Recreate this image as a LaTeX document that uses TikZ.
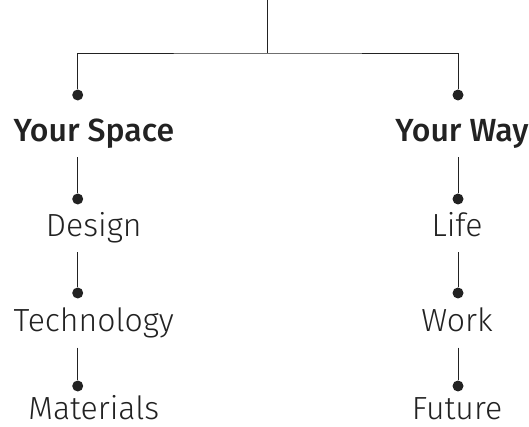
\documentclass[tikz,border=0pt]{standalone}
\usepackage{fontspec}
\setmainfont{Fira Sans}[UprightFont=* Light, BoldFont=* Medium]
\usepackage{xcolor}
\usetikzlibrary{positioning}
\definecolor{ink}{HTML}{222222}

\begin{document}
\begin{tikzpicture}[x=1pt, y=1pt, line width=0.9pt, color=ink,
  dot/.style={circle, fill=ink, inner sep=0pt, minimum size=11pt},
  lbl/.style={anchor=base, inner sep=0pt, text height=22pt, text depth=15.3pt,
    font=\fontsize{32}{36}\selectfont},
  head/.style={lbl, font=\fontsize{32}{36}\selectfont\bfseries},
  last/.style={lbl, text depth=0pt}]
\useasboundingbox (0,0) rectangle (529,427);
% Top branch
\coordinate (root) at (267.6,427);
\coordinate (fork) at (267.6,374);
\node[dot] (space dot) at (77.7,332) {};
\node[dot] (way dot) at (458,332) {};
\draw (root) -- (fork);
\draw (space dot) |- (fork) -| (way dot);
% Headings
\node[head] (space) at (93.8,285.3) {Your Space};
\node[head] (way) at (462,285.3) {Your Way};

% Your Space column
\node[dot] (design dot) at (77.7,228) {};
\node[lbl] (design) at (93.8,190.3) {Design};
\node[dot] (tech dot) at (77.7,134) {};
\node[lbl] (tech) at (93.8,95) {Technology};
\node[dot] (mat dot) at (77.7,41) {};
\node[last] (mat) at (93.8,7.5) {Materials};
\draw (space.south -| space dot) -- (design dot);
\draw (design.south -| space dot) -- (tech dot);
\draw (tech.south -| space dot) -- (mat dot);

% Your Way column
\node[dot] (life dot) at (458,228) {};
\node[lbl] (life) at (457,190.3) {Life};
\node[dot] (work dot) at (458,134) {};
\node[lbl] (work) at (457,95) {Work};
\node[dot] (future dot) at (458,41) {};
\node[last] (future) at (457,7.5) {Future};
\draw (way.south -| way dot) -- (life dot);
\draw (life.south -| way dot) -- (work dot);
\draw (work.south -| way dot) -- (future dot);
\end{tikzpicture}
\end{document}
